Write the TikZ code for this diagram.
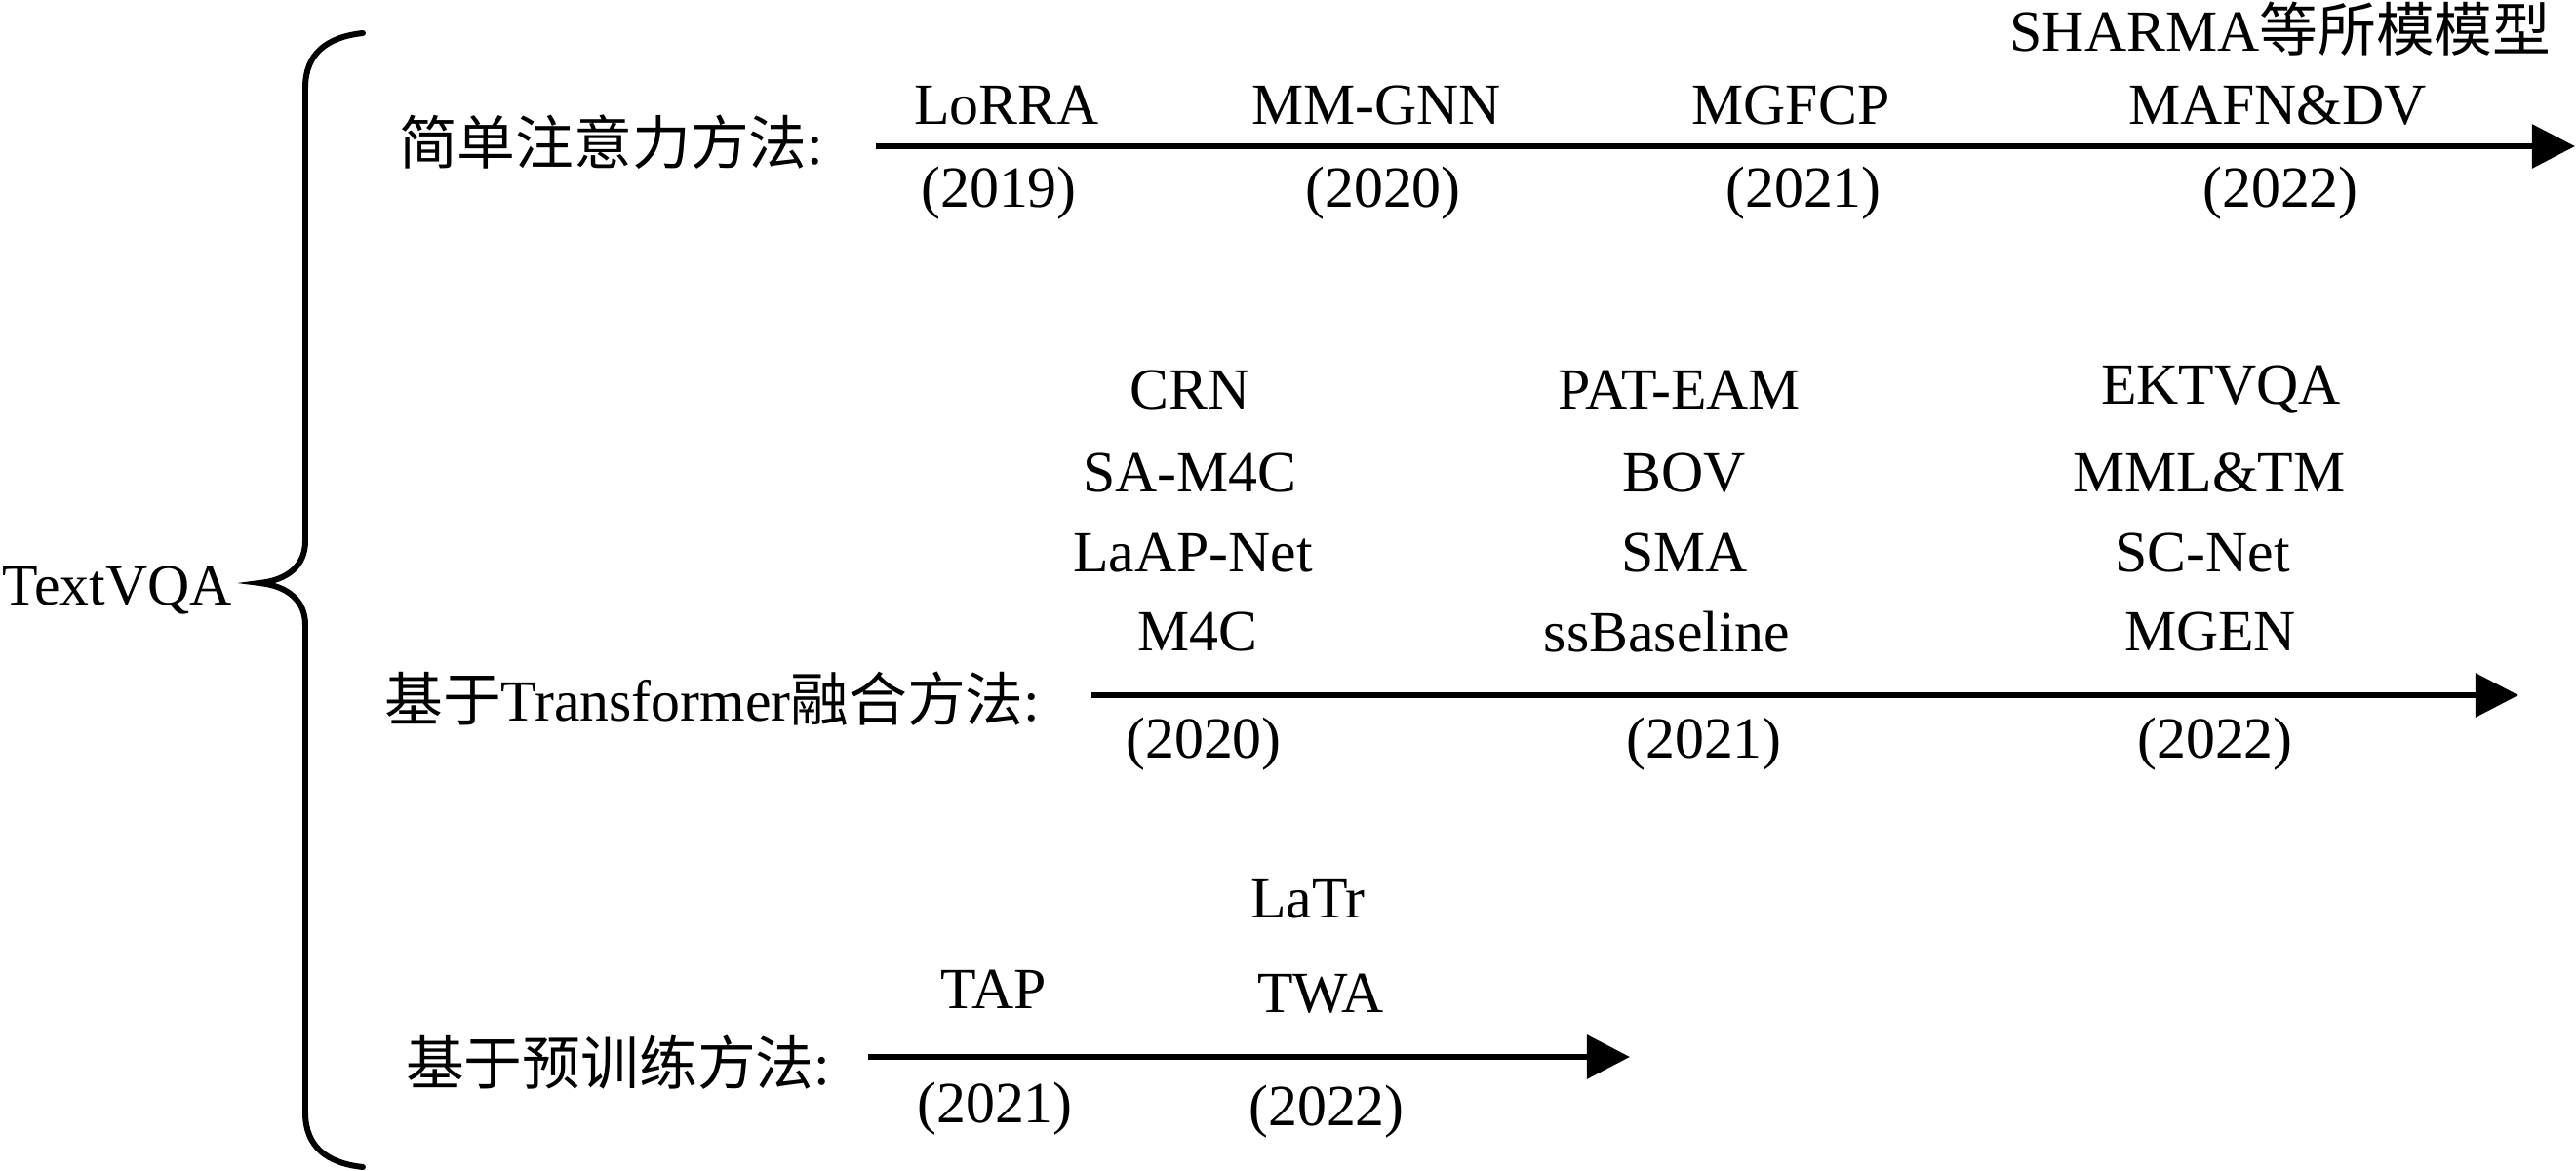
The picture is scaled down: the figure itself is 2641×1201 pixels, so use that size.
\documentclass[tikz,border=0pt]{standalone}
\usepackage{fontspec}
\setmainfont{Liberation Serif}
\newfontfamily\cjk{Noto Sans CJK SC}
\usetikzlibrary{arrows.meta}

\tikzset{
    model/.style={inner sep=0pt, font=\fontsize{17}{20}\selectfont},
    year/.style={model},
    method/.style={model, anchor=east},
    timeline/.style={line width=1.7pt, -{Triangle[length=0.44cm, width=0.44cm]}},
    bracket/.style={line width=1.7pt, line cap=round},
}

\begin{document}
\begin{tikzpicture}[x=0.01cm, y=-0.01cm]
    \useasboundingbox (0,0) rectangle (2641,1201);

    \node[model, anchor=west] (TextVQA) at (2,606) {TextVQA};
    \draw[bracket] (372,34) .. controls (335,38) and (313,55) .. (313,90)
        -- (313,555) .. controls (313,580) and (295,595) .. (266,598)
        .. controls (295,601) and (313,616) .. (313,641)
        -- (313,1141) .. controls (313,1176) and (335,1193) .. (372,1197);

    \node[method]   (Row 1)  at (845,146)  {{\cjk 简单注意力方法}:};
    \node[method]   (Row 2)  at (1067,717) {{\cjk 基于}Transformer{\cjk 融合方法}:};
    \node[method]   (Row 3)  at (852,1090) {{\cjk 基于预训练方法}:};

    \coordinate (Row 1 start) at (898,150);
    \coordinate (Row 1 end)   at (2640,150);
    \coordinate (Row 2 start) at (1119,713);
    \coordinate (Row 2 end)   at (2582,713);
    \coordinate (Row 3 start) at (890,1084);
    \coordinate (Row 3 end)   at (1671,1084);

    \draw[timeline] (Row 1 start) -- (Row 1 end);
    \draw[timeline] (Row 2 start) -- (Row 2 end);
    \draw[timeline] (Row 3 start) -- (Row 3 end);

    % simple attention
    \node[model] (LoRRA)   at (1032,108) {LoRRA};
    \node[model] (MM-GNN)  at (1411,108) {MM-GNN};
    \node[model] (MGFCP)   at (1836,108) {MGFCP};
    \node[model] (MAFN&DV) at (2335,108) {MAFN\&DV};
    \node[model] (SHARMA)  at (2338,30)  {SHARMA{\cjk 等所模模型}};

    \node[year] (Year 1 2019) at (1024,198) {(2019)};
    \node[year] (Year 1 2020) at (1418,198) {(2020)};
    \node[year] (Year 1 2021) at (1849,198) {(2021)};
    \node[year] (Year 1 2022) at (2338,198) {(2022)};

    % transformer fusion
    \node[model] (CRN)        at (1220,400) {CRN};
    \node[model] (SA-M4C)     at (1220,485) {SA-M4C};
    \node[model] (LaAP-Net)   at (1223,567) {LaAP-Net};
    \node[model] (M4C)        at (1228,648) {M4C};

    \node[model] (PAT-EAM)    at (1722,400) {PAT-EAM};
    \node[model] (BOV)        at (1727,485) {BOV};
    \node[model] (SMA)        at (1727,567) {SMA};
    \node[model] (ssBaseline) at (1709,648) {ssBaseline};

    \node[model] (EKTVQA)     at (2277,400) {EKTVQA};
    \node[model] (MML&TM)     at (2265,485) {MML\&TM};
    \node[model] (SC-Net)     at (2258,567) {SC-Net};
    \node[model] (MGEN)       at (2266,648) {MGEN};

    \node[year] (Year 2 2020) at (1234,763) {(2020)};
    \node[year] (Year 2 2021) at (1747,763) {(2021)};
    \node[year] (Year 2 2022) at (2271,763) {(2022)};

    % pre-training
    \node[model] (TAP)  at (1019,1015) {TAP};
    \node[model] (LaTr) at (1341,922)  {LaTr};
    \node[model] (TWA)  at (1354,1019) {TWA};

    \node[year] (Year 3 2021) at (1020,1137) {(2021)};
    \node[year] (Year 3 2022) at (1360,1140) {(2022)};
\end{tikzpicture}
\end{document}
